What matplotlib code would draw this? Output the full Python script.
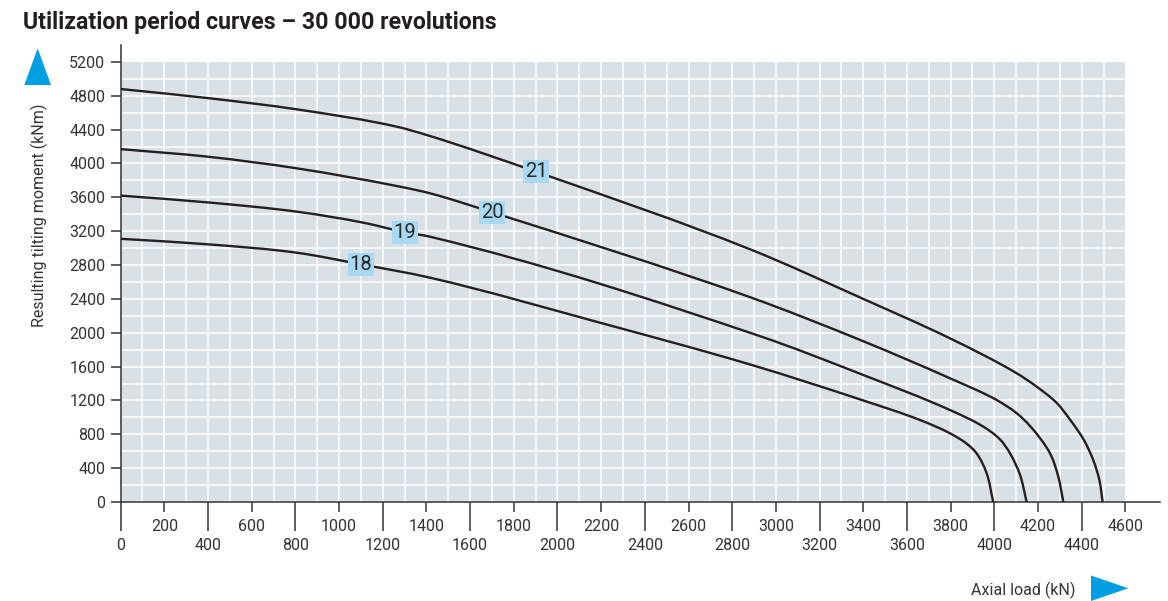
import matplotlib
matplotlib.use("Agg")
import matplotlib.pyplot as plt
from matplotlib.patches import Rectangle, Polygon, PathPatch
from matplotlib.path import Path
import numpy as np

plt.rcParams['font.family'] = ['Roboto', 'DejaVu Sans']

# curve data: axial load (kN) -> tilting moment (kNm)
load_18 = [0, 400, 806, 1100, 1416, 2200, 2882, 3400, 3660, 3797, 3873, 3919, 3965, 3995]
moment_18 = [3110, 3045, 2946, 2809, 2651, 2115, 1625, 1200, 969, 812, 690, 575, 339, 0]

load_19 = [0, 400, 806, 1111, 1302, 1416, 2927, 3400, 3797, 3950, 4026, 4072, 4118, 4148]
moment_19 = [3620, 3540, 3431, 3301, 3187, 3135, 1960, 1501, 1087, 890, 740, 575, 319, 0]

load_20 = [0, 400, 806, 1264, 1416, 1701, 2882, 3400, 3797, 4011, 4103, 4163, 4255, 4293, 4316]
moment_20 = [4170, 4080, 3943, 3734, 3648, 3423, 2420, 1900, 1462, 1205, 1048, 900, 575, 299, 0]

load_21 = [0, 409, 806, 1264, 1416, 1902, 2882, 3400, 3797, 4100, 4194, 4286, 4348, 4410, 4453, 4481, 4496]
moment_21 = [4880, 4770, 4640, 4435, 4325, 3903, 2986, 2400, 1934, 1525, 1363, 1170, 969, 733, 496, 260, 0]

curve_names = ["18", "19", "20", "21"]
label_x = [1100, 1302, 1701, 1902]
label_y = [2809, 3187, 3423, 3903]

x_major = list(range(0, 4401, 400))
x_minor = list(range(200, 4601, 400))
y_ticks = list(range(0, 5201, 400))

grid_bg = "#d9e0e6"
ink = "#231f20"
box_col = "#a8d8f2"
arrow_col = "#009fe3"


def smooth_path(xs, ys, ax):
    # smooth Bezier through the read points; tangent = mean of neighbouring
    # chord directions, handles = 1/3 of segment length (no overshoot)
    pts = ax.transData.transform(np.column_stack([xs, ys]))
    n = len(pts)
    seg = np.diff(pts, axis=0)
    seglen = np.hypot(seg[:, 0], seg[:, 1])
    unit = seg / seglen[:, None]
    tang = np.zeros_like(pts)
    tang[0] = unit[0]
    tang[-1] = unit[-1]
    for i in range(1, n - 1):
        t = unit[i - 1] + unit[i]
        tang[i] = t / np.hypot(*t)
    verts = [pts[0]]
    codes = [Path.MOVETO]
    for i in range(n - 1):
        h = seglen[i] / 3.0
        verts += [pts[i] + tang[i] * h, pts[i + 1] - tang[i + 1] * h, pts[i + 1]]
        codes += [Path.CURVE4] * 3
    return Path(verts, codes)


fig = plt.figure(figsize=(11.68, 6.01), dpi=100)
ax = fig.add_axes([0.1033, 0.1647, 0.8901, 0.7604])
ax.set_xlim(0, 4760)
ax.set_ylim(0, 5400)
ax.set_facecolor("none")

# grid panel
ax.add_patch(Rectangle((0, 0), 4600, 5200, facecolor=grid_bg, edgecolor="none", zorder=0))
ax.vlines(np.arange(100, 4600, 100), 0, 5200, colors="white", linewidth=1.1, zorder=1)
ax.hlines(np.arange(200, 5200, 200), 0, 4600, colors="white", linewidth=1.1, zorder=1)

for lx, ly in [(load_18, moment_18), (load_19, moment_19), (load_20, moment_20), (load_21, moment_21)]:
    path = smooth_path(lx, ly, ax)
    ax.add_patch(PathPatch(path, transform=None, facecolor="none", edgecolor=ink,
                           linewidth=1.7, zorder=3, capstyle="butt"))

for name, tx, ty in zip(curve_names, label_x, label_y):
    ax.text(tx, ty, name, ha="center", va="center", fontsize=14.5, color="#2a2a2a", zorder=5,
            bbox=dict(boxstyle="square,pad=0.1", facecolor=box_col, edgecolor="none"))

# spines and ticks
for s in ["top", "right"]:
    ax.spines[s].set_visible(False)
for s in ["left", "bottom"]:
    ax.spines[s].set_color("#333333")
    ax.spines[s].set_linewidth(1.1)

ax.set_xticks(x_major)
ax.set_xticklabels([str(v) for v in x_major])
ax.set_xticks(x_minor, minor=True)
ax.set_xticklabels([str(v) for v in x_minor], minor=True)
ax.tick_params(axis="x", which="major", length=21, width=1.1, color="#333333",
               labelsize=11.5, labelcolor="#333333", pad=5)
ax.tick_params(axis="x", which="minor", length=7, width=1.1, color="#333333",
               labelsize=11.5, labelcolor="#333333", pad=5)
ax.set_yticks(y_ticks)
ax.set_yticklabels([str(v) for v in y_ticks])
ax.tick_params(axis="y", which="major", length=7, width=1.1, color="#333333",
               labelsize=11.5, labelcolor="#333333", pad=4)

# title and axis labels
fig.text(0.0197, 0.962, "Utilization period curves \u2013 30 000 revolutions", fontsize=16.7,
         fontweight="bold", color="#231f20", ha="left", va="center")
fig.text(0.034, 0.642, "Resulting tilting moment (kNm)", rotation=90, fontsize=11.5,
         color="#333333", ha="center", va="center")
fig.text(0.9205, 0.018, "Axial load (kN)", fontsize=11.5, color="#333333", ha="right", va="center")

# blue arrow heads
W, H = 1168, 601
up = [(37.7, 48.3), (24.3, 85), (51, 85)]
right = [(1091, 575.5), (1128.3, 588.3), (1091, 601)]
for tri in (up, right):
    pts = [(px / W, 1 - py / H) for px, py in tri]
    fig.patches.append(Polygon(pts, closed=True, transform=fig.transFigure,
                               facecolor=arrow_col, edgecolor="none"))

fig.savefig("out.png", dpi=100)
